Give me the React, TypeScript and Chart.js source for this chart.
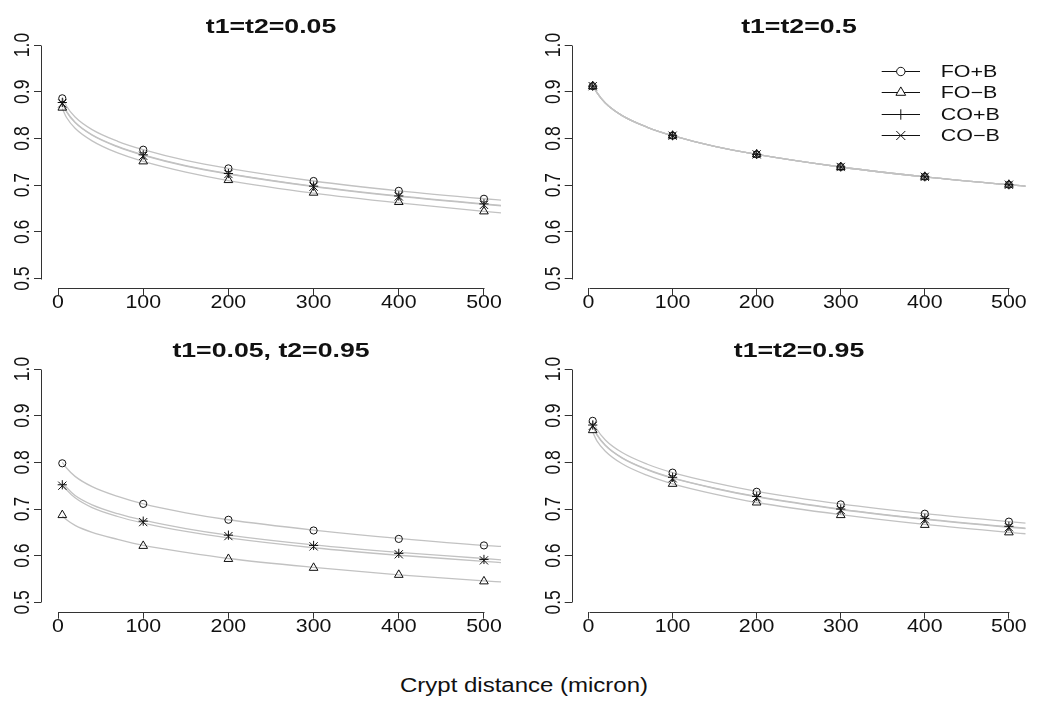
import React, { useEffect, useRef } from 'react';
import { Chart, registerables } from 'chart.js';
import { drawPoint } from 'chart.js/helpers';

Chart.register(...registerables);

// ---------- data ----------
const X_POINTS = [5, 100, 200, 300, 400, 500];
const CURVE_X = [5, 10, 20, 40, 70, 100, 150, 200, 300, 400, 500, 520];
const X_TICKS = [0, 100, 200, 300, 400, 500];
const Y_TICKS = [0.5, 0.6, 0.7, 0.8, 0.9, 1.0];
const SERIES_NAMES = ['FO+B', 'FO\u2212B', 'CO+B', 'CO\u2212B'];
const PANEL_TITLES = ['t1=t2=0.05', 't1=t2=0.5', 't1=0.05, t2=0.95', 't1=t2=0.95'];
const X_LABEL = 'Crypt distance (micron)';

// panel 1: t1=t2=0.05
const P1_FO_PLUS_B = [0.886, 0.776, 0.736, 0.709, 0.688, 0.671];
const P1_FO_MINUS_B = [0.866, 0.751, 0.711, 0.684, 0.664, 0.644];
const P1_CO_PLUS_B = [0.877, 0.765, 0.725, 0.698, 0.677, 0.660];
const P1_CO_MINUS_B = [0.875, 0.763, 0.724, 0.697, 0.676, 0.658];
const P1_FIT_FO_PLUS_B = [0.888, 0.869, 0.846, 0.819, 0.794, 0.776, 0.753, 0.736, 0.709, 0.688, 0.671, 0.668];
const P1_FIT_FO_MINUS_B = [0.864, 0.845, 0.822, 0.795, 0.769, 0.751, 0.728, 0.710, 0.683, 0.662, 0.644, 0.641];
const P1_FIT_CO_PLUS_B = [0.877, 0.858, 0.835, 0.808, 0.783, 0.765, 0.742, 0.725, 0.698, 0.677, 0.660, 0.657];
const P1_FIT_CO_MINUS_B = [0.876, 0.857, 0.834, 0.807, 0.782, 0.764, 0.741, 0.724, 0.697, 0.676, 0.659, 0.656];

// panel 2: t1=t2=0.5
const P2_FO_PLUS_B = [0.912, 0.806, 0.766, 0.739, 0.718, 0.701];
const P2_FO_MINUS_B = [0.912, 0.806, 0.766, 0.739, 0.718, 0.701];
const P2_CO_PLUS_B = [0.912, 0.806, 0.766, 0.739, 0.718, 0.701];
const P2_CO_MINUS_B = [0.912, 0.806, 0.766, 0.739, 0.718, 0.701];
const P2_FIT_FO_PLUS_B = [0.914, 0.898, 0.876, 0.849, 0.824, 0.806, 0.783, 0.766, 0.739, 0.718, 0.701, 0.698];
const P2_FIT_FO_MINUS_B = [0.914, 0.898, 0.876, 0.849, 0.824, 0.806, 0.783, 0.766, 0.739, 0.718, 0.701, 0.698];
const P2_FIT_CO_PLUS_B = [0.914, 0.898, 0.876, 0.849, 0.824, 0.806, 0.783, 0.766, 0.739, 0.718, 0.701, 0.698];
const P2_FIT_CO_MINUS_B = [0.914, 0.898, 0.876, 0.849, 0.824, 0.806, 0.783, 0.766, 0.739, 0.718, 0.701, 0.698];

// panel 3: t1=0.05, t2=0.95
const P3_FO_PLUS_B = [0.798, 0.711, 0.677, 0.654, 0.636, 0.622];
const P3_FO_MINUS_B = [0.687, 0.621, 0.593, 0.574, 0.559, 0.545];
const P3_CO_PLUS_B = [0.752, 0.674, 0.644, 0.622, 0.605, 0.592];
const P3_CO_MINUS_B = [0.750, 0.672, 0.642, 0.620, 0.603, 0.590];
const P3_FIT_FO_PLUS_B = [0.800, 0.788, 0.770, 0.748, 0.727, 0.711, 0.692, 0.677, 0.655, 0.637, 0.622, 0.620];
const P3_FIT_FO_MINUS_B = [0.685, 0.677, 0.665, 0.650, 0.635, 0.622, 0.607, 0.594, 0.575, 0.559, 0.546, 0.544];
const P3_FIT_CO_PLUS_B = [0.757, 0.746, 0.729, 0.709, 0.690, 0.676, 0.658, 0.644, 0.623, 0.607, 0.594, 0.591];
const P3_FIT_CO_MINUS_B = [0.752, 0.741, 0.724, 0.703, 0.684, 0.670, 0.652, 0.638, 0.617, 0.601, 0.588, 0.585];

// panel 4: t1=t2=0.95
const P4_FO_PLUS_B = [0.889, 0.778, 0.737, 0.710, 0.690, 0.673];
const P4_FO_MINUS_B = [0.869, 0.754, 0.714, 0.687, 0.666, 0.650];
const P4_CO_PLUS_B = [0.880, 0.768, 0.727, 0.700, 0.680, 0.663];
const P4_CO_MINUS_B = [0.878, 0.766, 0.725, 0.698, 0.678, 0.661];
const P4_FIT_FO_PLUS_B = [0.890, 0.871, 0.848, 0.821, 0.796, 0.778, 0.756, 0.738, 0.711, 0.690, 0.673, 0.670];
const P4_FIT_FO_MINUS_B = [0.865, 0.846, 0.824, 0.797, 0.772, 0.754, 0.732, 0.714, 0.688, 0.667, 0.650, 0.647];
const P4_FIT_CO_PLUS_B = [0.879, 0.860, 0.837, 0.810, 0.785, 0.767, 0.745, 0.727, 0.700, 0.679, 0.662, 0.659];
const P4_FIT_CO_MINUS_B = [0.878, 0.859, 0.836, 0.809, 0.784, 0.766, 0.744, 0.726, 0.699, 0.678, 0.661, 0.658];

const PANEL_POINTS = [
  [P1_FO_PLUS_B, P1_FO_MINUS_B, P1_CO_PLUS_B, P1_CO_MINUS_B],
  [P2_FO_PLUS_B, P2_FO_MINUS_B, P2_CO_PLUS_B, P2_CO_MINUS_B],
  [P3_FO_PLUS_B, P3_FO_MINUS_B, P3_CO_PLUS_B, P3_CO_MINUS_B],
  [P4_FO_PLUS_B, P4_FO_MINUS_B, P4_CO_PLUS_B, P4_CO_MINUS_B],
];
const PANEL_FITS = [
  [P1_FIT_FO_PLUS_B, P1_FIT_FO_MINUS_B, P1_FIT_CO_PLUS_B, P1_FIT_CO_MINUS_B],
  [P2_FIT_FO_PLUS_B, P2_FIT_FO_MINUS_B, P2_FIT_CO_PLUS_B, P2_FIT_CO_MINUS_B],
  [P3_FIT_FO_PLUS_B, P3_FIT_FO_MINUS_B, P3_FIT_CO_PLUS_B, P3_FIT_CO_MINUS_B],
  [P4_FIT_FO_PLUS_B, P4_FIT_FO_MINUS_B, P4_FIT_CO_PLUS_B, P4_FIT_CO_MINUS_B],
];

// ---------- styles ----------
const FONT = '"Liberation Sans", Arial, Helvetica, sans-serif';
const STRETCH = 1.22; // the reference text is horizontally widened
const INK = '#111';
const AXIS = '#333';
const CURVE = '#c2c2c2';
const MARKERS = [
  { pointStyle: 'circle', radius: 3.6 },
  { pointStyle: 'triangle', radius: 5 },
  { pointStyle: 'cross', radius: 4.6 },
  { pointStyle: 'crossRot', radius: 5.8 },
];

// panel geometry (canvas box and plot area inside it)
const PANELS = [
  { left: 0, top: 0, area: { left: 41, right: 501, top: 35.7, bottom: 288 }, legend: false },
  { left: 530, top: 0, area: { left: 41.7, right: 495.7, top: 35.7, bottom: 288 }, legend: true },
  { left: 0, top: 330, area: { left: 41, right: 501, top: 29.7, bottom: 281.7 }, legend: false },
  { left: 530, top: 330, area: { left: 41.7, right: 495.7, top: 29.7, bottom: 281.7 }, legend: false },
];
const CW = 520;
const CH = 330;
const X_AXIS_H = 40;

const rAxesPlugin = {
  id: 'rAxes',
  afterDraw(chart: any, _args: any, opts: any) {
    const { ctx, chartArea } = chart;
    const x = chart.scales.x;
    const y = chart.scales.y;
    ctx.save();
    ctx.strokeStyle = AXIS;
    ctx.lineWidth = 1;
    const yb = Math.round(chartArea.bottom) + 0.5;
    ctx.beginPath();
    ctx.moveTo(Math.round(x.getPixelForValue(X_TICKS[0])) + 0.5, yb);
    ctx.lineTo(Math.round(x.getPixelForValue(X_TICKS[X_TICKS.length - 1])) + 0.5, yb);
    ctx.stroke();
    const xl = Math.round(chartArea.left) + 0.5;
    ctx.beginPath();
    ctx.moveTo(xl, Math.round(y.getPixelForValue(Y_TICKS[0])) + 0.5);
    ctx.lineTo(xl, Math.round(y.getPixelForValue(Y_TICKS[Y_TICKS.length - 1])) + 0.5);
    ctx.stroke();

    ctx.fillStyle = INK;
    ctx.font = `17.5px ${FONT}`;
    ctx.textAlign = 'center';
    ctx.textBaseline = 'alphabetic';
    // x tick labels
    for (const v of X_TICKS) {
      ctx.save();
      ctx.translate(x.getPixelForValue(v), chartArea.bottom + 20);
      ctx.scale(STRETCH, 1);
      ctx.fillText(String(v), 0, 0);
      ctx.restore();
    }
    // rotated y tick labels (R style)
    for (const v of Y_TICKS) {
      ctx.save();
      ctx.translate(chartArea.left - 12, y.getPixelForValue(v));
      ctx.rotate(-Math.PI / 2);
      ctx.scale(1, STRETCH);
      ctx.fillText(v.toFixed(1), 0, 0);
      ctx.restore();
    }

    if (opts && opts.legend) {
      const lx0 = 351.7, lx1 = 390, mx = 370.8, tx = 410.7;
      const rows = [71, 92.3, 114, 135.3];
      ctx.font = `16.5px ${FONT}`;
      ctx.textAlign = 'left';
      ctx.textBaseline = 'alphabetic';
      SERIES_NAMES.forEach((name, i) => {
        const ry = rows[i];
        const yy = Math.round(ry) + 0.5;
        ctx.strokeStyle = INK;
        ctx.lineWidth = 1;
        ctx.beginPath();
        ctx.moveTo(lx0, yy);
        ctx.lineTo(lx1, yy);
        ctx.stroke();
        const m = MARKERS[i];
        ctx.fillStyle = '#fff';
        ctx.strokeStyle = INK;
        drawPoint(ctx, { pointStyle: m.pointStyle, radius: m.radius + 0.6, rotation: 0, borderWidth: 1 } as any, mx, yy);
        ctx.fillStyle = INK;
        ctx.save();
        ctx.translate(tx, ry + 6);
        ctx.scale(1.3, 1);
        ctx.fillText(name, 0, 0);
        ctx.restore();
      });
    }
    ctx.restore();
  },
};

function Panel({ index }: { index: number }) {
  const ref = useRef<HTMLCanvasElement | null>(null);
  useEffect(() => {
    const p = PANELS[index];
    const pts = PANEL_POINTS[index];
    const fits = PANEL_FITS[index];
    const datasets: any[] = [];
    pts.forEach((arr, i) => {
      datasets.push({
        label: SERIES_NAMES[i],
        data: X_POINTS.map((xv, k) => ({ x: xv, y: arr[k] })),
        showLine: false,
        pointStyle: MARKERS[i].pointStyle,
        pointRadius: MARKERS[i].radius,
        pointBorderColor: INK,
        pointBackgroundColor: 'rgba(0,0,0,0)',
        pointBorderWidth: 1,
        order: 0,
      });
    });
    fits.forEach((arr, i) => {
      datasets.push({
        label: SERIES_NAMES[i] + ' fit',
        data: CURVE_X.map((xv, k) => ({ x: xv, y: arr[k] })),
        showLine: true,
        pointRadius: 0,
        borderColor: CURVE,
        borderWidth: 1.3,
        cubicInterpolationMode: 'monotone',
        fill: false,
        order: 1,
      });
    });
    const chart = new Chart(ref.current as HTMLCanvasElement, {
      type: 'scatter',
      data: { datasets },
      options: {
        animation: false,
        responsive: false,
        events: [],
        layout: {
          padding: {
            left: 0,
            right: CW - p.area.right,
            top: p.area.top,
            bottom: CH - p.area.bottom - X_AXIS_H,
          },
        },
        plugins: {
          legend: { display: false },
          tooltip: { enabled: false },
          rAxes: { legend: p.legend },
        } as any,
        scales: {
          x: {
            type: 'linear',
            min: -20,
            max: 520,
            afterBuildTicks: (s: any) => {
              s.ticks = X_TICKS.map((v) => ({ value: v }));
            },
            afterFit: (s: any) => {
              s.height = X_AXIS_H;
            },
            border: { display: false },
            grid: { drawOnChartArea: false, drawTicks: true, tickLength: 7, tickColor: AXIS, tickWidth: 1 },
            ticks: { display: false },
          },
          y: {
            type: 'linear',
            min: 0.48,
            max: 1.02,
            afterBuildTicks: (s: any) => {
              s.ticks = Y_TICKS.map((v) => ({ value: v }));
            },
            afterFit: (s: any) => {
              s.width = p.area.left;
            },
            border: { display: false },
            grid: { drawOnChartArea: false, drawTicks: true, tickLength: 7, tickColor: AXIS, tickWidth: 1 },
            ticks: { display: false },
          },
        },
      },
      plugins: [rAxesPlugin],
    } as any);
    return () => chart.destroy();
  }, [index]);
  const p = PANELS[index];
  return (
    <div style={{ position: 'absolute', left: p.left, top: p.top, width: CW, height: CH }}>
      <canvas ref={ref} width={CW} height={CH} style={{ width: CW, height: CH, display: 'block' }} />
    </div>
  );
}

function Title({ index }: { index: number }) {
  const p = PANELS[index];
  const cx = p.left + (p.area.left + p.area.right) / 2;
  const cy = p.top + (index < 2 ? 26 : 20);
  return (
    <div
      style={{
        position: 'absolute',
        left: cx - 200,
        top: cy - 11.7,
        width: 400,
        textAlign: 'center',
        fontFamily: FONT,
        fontWeight: 'bold',
        fontSize: 21,
        lineHeight: '24px',
        color: INK,
        whiteSpace: 'nowrap',
        transform: 'scaleX(1.27)',
        transformOrigin: 'center',
      }}
    >
      {PANEL_TITLES[index]}
    </div>
  );
}

export default function App() {
  return (
    <div
      style={{
        position: 'absolute',
        left: 0,
        top: 0,
        width: 1050,
        height: 703,
        background: '#fff',
        overflow: 'hidden',
      }}
    >
      {[0, 1, 2, 3].map((i) => (
        <Panel key={'p' + i} index={i} />
      ))}
      {[0, 1, 2, 3].map((i) => (
        <Title key={'t' + i} index={i} />
      ))}
      <div
        style={{
          position: 'absolute',
          left: 324,
          top: 673.3,
          width: 400,
          textAlign: 'center',
          fontFamily: FONT,
          fontSize: 20,
          lineHeight: '24px',
          color: INK,
          whiteSpace: 'nowrap',
          transform: 'scaleX(1.2)',
          transformOrigin: 'center',
        }}
      >
        {X_LABEL}
      </div>
    </div>
  );
}
